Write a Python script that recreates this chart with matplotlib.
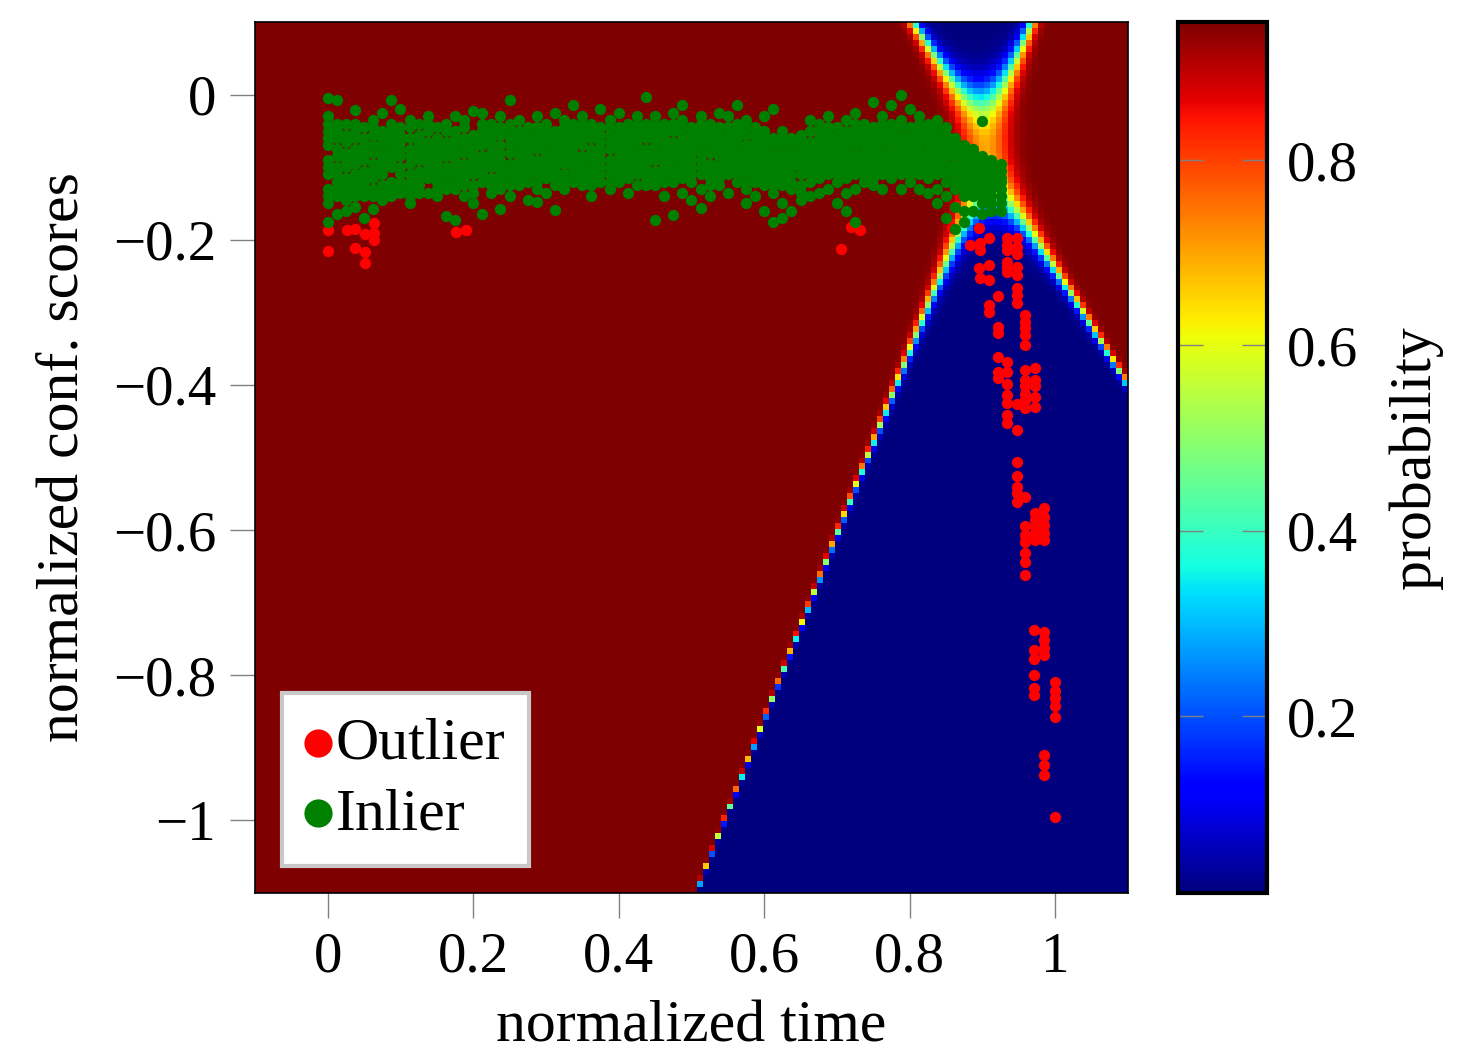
import numpy as np
import matplotlib
matplotlib.use('Agg')
import matplotlib.pyplot as plt

plt.rcParams['font.family'] = ['Liberation Serif', 'DejaVu Serif']

# outliers (red): normalized time, normalized conf. score
red_t = [0.000, 0.000, 0.026, 0.038, 0.051, 0.064, 0.064, 0.064, 0.038, 0.051, 0.051,
         0.177, 0.190, 0.706, 0.719, 0.732, 0.858, 0.896, 0.909, 0.883, 0.897, 0.897,
         0.934, 0.934, 0.934, 0.934, 0.934, 0.934,
         0.947, 0.947, 0.947, 0.947, 0.947, 0.947, 0.947, 0.947,
         0.896, 0.909, 0.909, 0.897, 0.922, 0.909, 0.909, 0.922, 0.922,
         0.959, 0.959, 0.959, 0.959, 0.959,
         0.922, 0.934, 0.934, 0.922, 0.922, 0.934,
         0.934, 0.934, 0.934, 0.934, 0.947, 0.947,
         0.959, 0.959, 0.959, 0.959, 0.959, 0.959,
         0.972, 0.972, 0.972, 0.972, 0.972,
         0.947, 0.947, 0.947, 0.947, 0.947, 0.959,
         0.972, 0.972, 0.972, 0.972, 0.972,
         0.985, 0.985, 0.985, 0.985, 0.985,
         0.959, 0.959, 0.959, 0.959, 0.959, 0.959,
         0.971, 0.985, 0.985, 0.985, 0.985,
         0.971, 0.971, 0.971, 0.971, 0.971,
         1.000, 1.000, 1.000, 1.000, 1.000,
         0.985, 0.985, 0.985, 1.000]
red_s = [-0.187, -0.215, -0.187, -0.185, -0.192, -0.177, -0.190, -0.201, -0.212, -0.217, -0.232,
         -0.189, -0.187, -0.213, -0.182, -0.187, -0.184, -0.184, -0.197, -0.207, -0.205, -0.214,
         -0.198, -0.207, -0.214, -0.230, -0.237, -0.244,
         -0.198, -0.210, -0.219, -0.237, -0.249, -0.267, -0.276, -0.287,
         -0.239, -0.235, -0.255, -0.252, -0.278, -0.290, -0.299, -0.320, -0.329,
         -0.304, -0.313, -0.322, -0.331, -0.345,
         -0.361, -0.368, -0.382, -0.382, -0.391, -0.399,
         -0.414, -0.425, -0.441, -0.453, -0.426, -0.462,
         -0.379, -0.393, -0.402, -0.412, -0.421, -0.432,
         -0.377, -0.393, -0.402, -0.416, -0.430,
         -0.506, -0.526, -0.540, -0.549, -0.561, -0.554,
         -0.577, -0.586, -0.595, -0.604, -0.614,
         -0.570, -0.582, -0.593, -0.604, -0.614,
         -0.595, -0.607, -0.616, -0.632, -0.644, -0.662,
         -0.738, -0.740, -0.751, -0.763, -0.772,
         -0.765, -0.777, -0.800, -0.818, -0.827,
         -0.809, -0.821, -0.832, -0.843, -0.857,
         -0.910, -0.924, -0.938, -0.995]

# inliers (green): scores per time step
green_t = [0.0, 0.0125, 0.025, 0.0375, 0.05, 0.0625, 0.075, 0.0875, 0.1, 0.1125,
           0.125, 0.1375, 0.15, 0.1625, 0.175, 0.1875, 0.2, 0.2125, 0.225, 0.2375,
           0.25, 0.2625, 0.275, 0.2875, 0.3, 0.3125, 0.325, 0.3375, 0.35, 0.3625,
           0.375, 0.3875, 0.4, 0.4125, 0.425, 0.4375, 0.45, 0.4625, 0.475, 0.4875,
           0.5, 0.5125, 0.525, 0.5375, 0.55, 0.5625, 0.575, 0.5875, 0.6, 0.6125,
           0.625, 0.6375, 0.65, 0.6625, 0.675, 0.6875, 0.7, 0.7125, 0.725, 0.7375,
           0.75, 0.7625, 0.775, 0.7875, 0.8, 0.8125, 0.825, 0.8375, 0.85, 0.8625,
           0.875, 0.8875, 0.9, 0.9125, 0.925]
green_s = [
    [-0.005, -0.03, -0.05, -0.07, -0.09, -0.11, -0.13, -0.15, -0.175],
    [-0.007, -0.04, -0.06, -0.085, -0.10, -0.12, -0.14, -0.165],
    [-0.04, -0.065, -0.08, -0.10, -0.115, -0.135, -0.16],
    [-0.021, -0.04, -0.06, -0.075, -0.095, -0.11, -0.13, -0.155],
    [-0.045, -0.07, -0.09, -0.105, -0.12, -0.14, -0.17],
    [-0.035, -0.055, -0.08, -0.095, -0.115, -0.13, -0.158],
    [-0.025, -0.05, -0.07, -0.09, -0.11, -0.125, -0.145],
    [-0.007, -0.04, -0.06, -0.08, -0.10, -0.12, -0.14],
    [-0.02, -0.045, -0.065, -0.085, -0.10, -0.12, -0.135],
    [-0.035, -0.06, -0.075, -0.095, -0.11, -0.13, -0.15],
    [-0.04, -0.055, -0.07, -0.09, -0.105, -0.125],
    [-0.03, -0.05, -0.075, -0.095, -0.115, -0.135],
    [-0.045, -0.06, -0.08, -0.10, -0.12, -0.14],
    [-0.04, -0.065, -0.085, -0.10, -0.12, -0.167],
    [-0.03, -0.05, -0.07, -0.09, -0.11, -0.13, -0.173],
    [-0.035, -0.06, -0.08, -0.095, -0.115, -0.14],
    [-0.023, -0.055, -0.075, -0.09, -0.11, -0.125, -0.15],
    [-0.025, -0.05, -0.07, -0.085, -0.105, -0.12, -0.165],
    [-0.04, -0.06, -0.08, -0.10, -0.115, -0.135],
    [-0.03, -0.055, -0.07, -0.09, -0.11, -0.13, -0.158],
    [-0.007, -0.04, -0.06, -0.08, -0.095, -0.115, -0.14],
    [-0.035, -0.05, -0.07, -0.09, -0.105, -0.125],
    [-0.045, -0.065, -0.085, -0.10, -0.12, -0.145],
    [-0.03, -0.055, -0.075, -0.09, -0.11, -0.13, -0.148],
    [-0.04, -0.06, -0.08, -0.095, -0.115, -0.135],
    [-0.025, -0.05, -0.07, -0.09, -0.105, -0.125, -0.159],
    [-0.035, -0.055, -0.075, -0.095, -0.11, -0.13],
    [-0.015, -0.04, -0.06, -0.08, -0.10, -0.12],
    [-0.03, -0.05, -0.07, -0.085, -0.105, -0.125],
    [-0.04, -0.06, -0.075, -0.095, -0.115, -0.14],
    [-0.02, -0.045, -0.065, -0.08, -0.10, -0.12],
    [-0.035, -0.055, -0.075, -0.09, -0.11, -0.13],
    [-0.025, -0.045, -0.065, -0.085, -0.105, -0.12],
    [-0.04, -0.06, -0.08, -0.095, -0.115, -0.135],
    [-0.03, -0.05, -0.07, -0.09, -0.11, -0.125],
    [-0.003, -0.04, -0.06, -0.075, -0.095, -0.115],
    [-0.03, -0.05, -0.07, -0.09, -0.105, -0.125, -0.173],
    [-0.04, -0.06, -0.08, -0.10, -0.12, -0.14],
    [-0.025, -0.05, -0.065, -0.085, -0.10, -0.12, -0.166],
    [-0.014, -0.035, -0.055, -0.075, -0.095, -0.115, -0.135],
    [-0.045, -0.065, -0.08, -0.10, -0.12, -0.145],
    [-0.03, -0.05, -0.07, -0.09, -0.11, -0.13, -0.156],
    [-0.04, -0.06, -0.08, -0.095, -0.115, -0.14],
    [-0.025, -0.045, -0.065, -0.085, -0.105, -0.125],
    [-0.03, -0.055, -0.075, -0.09, -0.11, -0.135],
    [-0.015, -0.04, -0.06, -0.08, -0.10, -0.12],
    [-0.035, -0.055, -0.07, -0.09, -0.11, -0.13, -0.15],
    [-0.045, -0.065, -0.085, -0.10, -0.12, -0.14],
    [-0.03, -0.05, -0.07, -0.09, -0.11, -0.125, -0.16],
    [-0.02, -0.06, -0.08, -0.10, -0.115, -0.135, -0.175],
    [-0.05, -0.07, -0.09, -0.105, -0.125, -0.15, -0.17],
    [-0.06, -0.08, -0.095, -0.11, -0.13, -0.16],
    [-0.055, -0.075, -0.09, -0.11, -0.125, -0.145],
    [-0.035, -0.065, -0.085, -0.10, -0.12, -0.14],
    [-0.04, -0.06, -0.08, -0.095, -0.115, -0.135],
    [-0.03, -0.055, -0.075, -0.09, -0.11, -0.13],
    [-0.045, -0.065, -0.085, -0.10, -0.12, -0.15],
    [-0.035, -0.06, -0.08, -0.095, -0.115, -0.135, -0.16],
    [-0.025, -0.05, -0.07, -0.09, -0.11, -0.13, -0.175],
    [-0.04, -0.06, -0.08, -0.10, -0.12],
    [-0.01, -0.045, -0.065, -0.085, -0.105, -0.125],
    [-0.03, -0.05, -0.07, -0.09, -0.11, -0.13],
    [-0.015, -0.04, -0.06, -0.08, -0.095, -0.115],
    [0.000, -0.035, -0.055, -0.075, -0.09, -0.11, -0.13],
    [-0.02, -0.045, -0.065, -0.085, -0.10, -0.12],
    [-0.03, -0.05, -0.07, -0.09, -0.11, -0.13],
    [-0.04, -0.06, -0.08, -0.10, -0.115, -0.135],
    [-0.035, -0.055, -0.075, -0.09, -0.11, -0.13, -0.15],
    [-0.045, -0.065, -0.085, -0.10, -0.12, -0.14, -0.17],
    [-0.06, -0.08, -0.095, -0.11, -0.13, -0.155, -0.185],
    [-0.07, -0.085, -0.10, -0.12, -0.14, -0.16, -0.175],
    [-0.075, -0.09, -0.105, -0.12, -0.14, -0.16],
    [-0.037, -0.085, -0.10, -0.115, -0.13, -0.15, -0.165],
    [-0.09, -0.11, -0.125, -0.14, -0.16],
    [-0.095, -0.115, -0.13, -0.15],
]
# further inliers in the dense core of the band, same time steps
green_s_core = [
    [-0.04, -0.06, -0.10, -0.14], [-0.05, -0.075, -0.11, -0.13],
    [-0.055, -0.09, -0.125, -0.145], [-0.05, -0.085, -0.12, -0.14],
    [-0.06, -0.08, -0.115, -0.13], [-0.045, -0.07, -0.105, -0.14],
    [-0.06, -0.08, -0.10, -0.135], [-0.05, -0.07, -0.09, -0.13],
    [-0.055, -0.075, -0.11, -0.125], [-0.045, -0.085, -0.12, -0.14],
    [-0.065, -0.08, -0.115, -0.135], [-0.04, -0.065, -0.085, -0.105],
    [-0.07, -0.09, -0.11, -0.13], [-0.05, -0.075, -0.11, -0.13],
    [-0.06, -0.08, -0.10, -0.12], [-0.045, -0.07, -0.105, -0.125],
    [-0.065, -0.085, -0.10, -0.135], [-0.04, -0.06, -0.095, -0.11],
    [-0.05, -0.07, -0.09, -0.125], [-0.045, -0.08, -0.10, -0.12],
    [-0.05, -0.07, -0.105, -0.125], [-0.06, -0.08, -0.095, -0.115],
    [-0.055, -0.075, -0.095, -0.11], [-0.045, -0.065, -0.10, -0.12],
    [-0.05, -0.07, -0.085, -0.105], [-0.06, -0.08, -0.095, -0.115],
    [-0.045, -0.065, -0.085, -0.12], [-0.05, -0.07, -0.09, -0.11],
    [-0.04, -0.06, -0.095, -0.115], [-0.05, -0.085, -0.105, -0.125],
    [-0.055, -0.075, -0.09, -0.11], [-0.045, -0.065, -0.10, -0.12],
    [-0.055, -0.075, -0.095, -0.11], [-0.05, -0.07, -0.085, -0.105],
    [-0.04, -0.06, -0.08, -0.10], [-0.05, -0.085, -0.105, -0.125],
    [-0.04, -0.06, -0.08, -0.115], [-0.05, -0.07, -0.09, -0.11],
    [-0.04, -0.075, -0.095, -0.11], [-0.045, -0.065, -0.085, -0.105],
    [-0.055, -0.075, -0.09, -0.11], [-0.04, -0.06, -0.08, -0.10],
    [-0.05, -0.07, -0.105, -0.125], [-0.055, -0.075, -0.095, -0.115],
    [-0.045, -0.065, -0.08, -0.10], [-0.05, -0.07, -0.09, -0.11],
    [-0.045, -0.08, -0.10, -0.12], [-0.055, -0.075, -0.09, -0.11],
    [-0.06, -0.08, -0.10, -0.115], [-0.07, -0.09, -0.105, -0.125],
    [-0.06, -0.08, -0.095, -0.115], [-0.07, -0.085, -0.10, -0.12],
    [-0.065, -0.08, -0.10, -0.135], [-0.05, -0.075, -0.09, -0.11],
    [-0.05, -0.07, -0.09, -0.105], [-0.045, -0.065, -0.085, -0.10],
    [-0.055, -0.075, -0.09, -0.11], [-0.05, -0.07, -0.085, -0.105],
    [-0.04, -0.06, -0.08, -0.10], [-0.05, -0.07, -0.09, -0.11],
    [-0.055, -0.075, -0.095, -0.115], [-0.04, -0.06, -0.08, -0.10],
    [-0.05, -0.07, -0.085, -0.105], [-0.045, -0.065, -0.08, -0.10],
    [-0.055, -0.075, -0.095, -0.11], [-0.04, -0.06, -0.08, -0.10],
    [-0.05, -0.07, -0.09, -0.105], [-0.045, -0.065, -0.085, -0.10],
    [-0.055, -0.075, -0.095, -0.11], [-0.07, -0.085, -0.10, -0.12],
    [-0.075, -0.095, -0.11, -0.13], [-0.08, -0.10, -0.115, -0.13],
    [-0.09, -0.11, -0.125, -0.14], [-0.10, -0.115, -0.13, -0.15],
    [-0.105, -0.12, -0.14, -0.16],
]

# background probability field:
# two boundary lines crossing near (0.905, -0.075)
cross_t, cross_s = 0.905, -0.075
slope_a = 2.569     # through (0.506, -1.1)
slope_b = -1.65     # through (0.80, 0.1) and (1.1, -0.40)
waist = 0.0034      # half-width^2 of the hourglass neck
sharpness = 294.0
p_min, p_max = 0.009, 0.949
n_cells = 146

xticks = [0, 0.2, 0.4, 0.6, 0.8, 1]
xtick_labels = ['0', '0.2', '0.4', '0.6', '0.8', '1']
yticks = [0, -0.2, -0.4, -0.6, -0.8, -1]
ytick_labels = ['0', '\u22120.2', '\u22120.4', '\u22120.6', '\u22120.8', '\u22121']
cbar_ticks = [0.2, 0.4, 0.6, 0.8]

fig = plt.figure(figsize=(14.61, 10.64), dpi=100)
ax = fig.add_axes([0.1745, 0.1607, 0.5975, 0.8186])
cax = fig.add_axes([0.8063, 0.1607, 0.0609, 0.8186])

# grid cell centres
edges_t = np.linspace(-0.1, 1.1, n_cells + 1)
edges_s = np.linspace(-1.1, 0.1, n_cells + 1)
T, S = np.meshgrid((edges_t[:-1] + edges_t[1:]) / 2, (edges_s[:-1] + edges_s[1:]) / 2)
u = (S - cross_s) - slope_a * (T - cross_t)
v = (S - cross_s) - slope_b * (T - cross_t)
z = np.clip(sharpness * (u * v - waist), -50, 50)
prob = p_min + (p_max - p_min) / (1 + np.exp(z))

im = ax.imshow(prob, cmap='jet', origin='lower', extent=[-0.1, 1.1, -1.1, 0.1],
               aspect='auto', interpolation='nearest', vmin=p_min, vmax=p_max)

gx = [t for t, col in zip(green_t, green_s) for _ in col]
gy = [s for col in green_s for s in col]
gx += [t for t, col in zip(green_t, green_s_core) for _ in col]
gy += [s for col in green_s_core for s in col]
ax.scatter(red_t, red_s, s=66, color='#ff0000', linewidths=0, label='Outlier', zorder=3)
ax.scatter(gx, gy, s=66, color='#008000', linewidths=0, label='Inlier', zorder=4)

ax.set_xlim(-0.1, 1.1)
ax.set_ylim(-1.1, 0.1)
ax.set_xticks(xticks)
ax.set_xticklabels(xtick_labels)
ax.set_yticks(yticks)
ax.set_yticklabels(ytick_labels)
ax.tick_params(direction='out', length=18, width=1, color='#808080', labelsize=41, pad=10)
for sp in ax.spines.values():
    sp.set_linewidth(1.2)
ax.set_xlabel('normalized time', fontsize=43, labelpad=12)
ax.set_ylabel('normalized conf. scores', fontsize=43, labelpad=16)

leg = ax.legend(loc='lower left', bbox_to_anchor=(0.031, 0.031), borderaxespad=0,
                fontsize=43, markerscale=2.5, handletextpad=0.1, handlelength=0.4,
                borderpad=0.4, labelspacing=0.27, fancybox=False, framealpha=1,
                edgecolor='#c8c8c8')
leg.get_frame().set_linewidth(3)

cb = fig.colorbar(im, cax=cax, ticks=cbar_ticks)
cb.outline.set_linewidth(3)
cb.ax.tick_params(direction='in', length=18, width=1, color='#808080', left=True,
                  right=True, labelsize=41, pad=14)
cb.set_label('probability', fontsize=43, labelpad=22)

fig.savefig('out.png', dpi=100)
